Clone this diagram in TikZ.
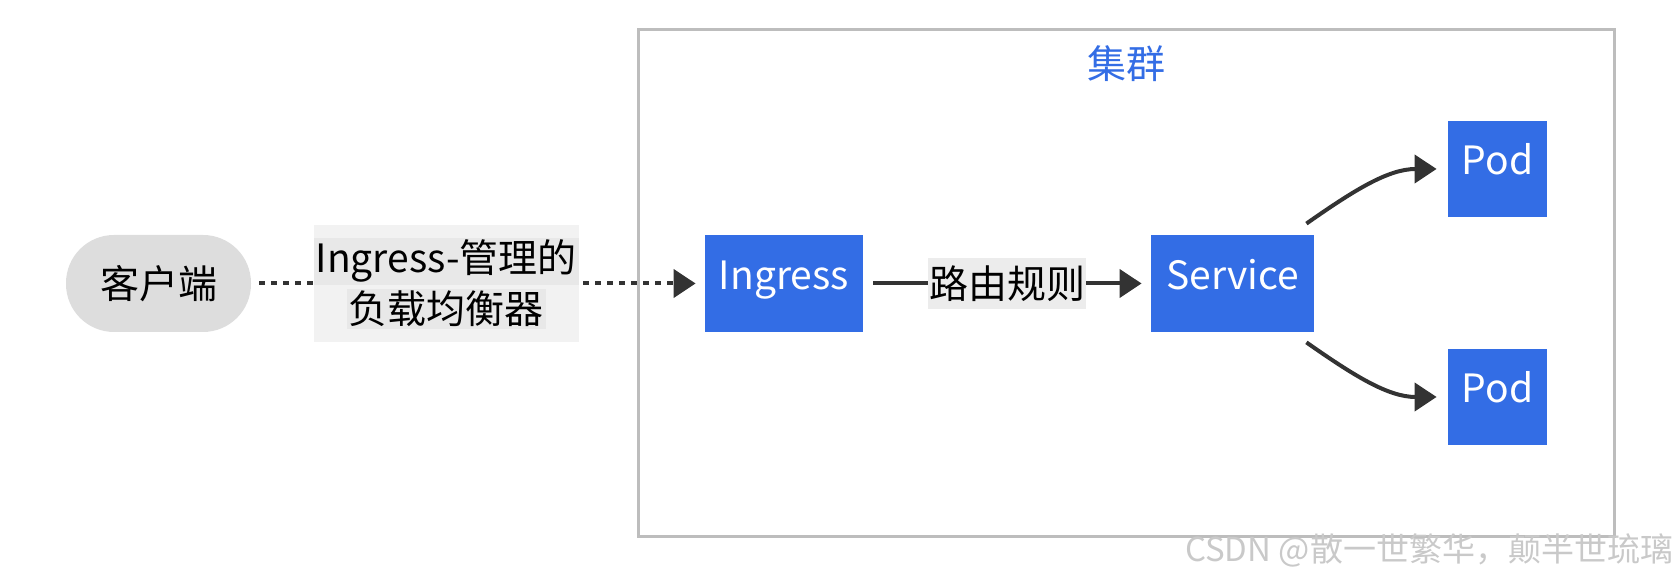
\documentclass[tikz,border=0pt]{standalone}
\usepackage{fontspec}
\setmainfont{Noto Sans CJK SC}
\usepackage{xcolor}
\usetikzlibrary{arrows.meta}
\definecolor{k8sblue}{HTML}{336DE5}
\definecolor{clientgray}{HTML}{DDDDDD}
\definecolor{lblfill}{HTML}{ECECEC}
\definecolor{lbldark}{HTML}{E8E8E8}
\definecolor{framegray}{HTML}{BDBDBD}
\definecolor{linkgray}{HTML}{333333}
\definecolor{markgray}{HTML}{C9C9C9}

\begin{document}
\begin{tikzpicture}[
    x=0.5pt, y=0.5pt,
    font=\fontsize{19.5}{25.5}\selectfont,
    block/.style={fill=k8sblue, text=white, minimum height=48.5pt, inner sep=0pt, text height=0.78em, text depth=0.22em},
    clientbox/.style={fill=clientgray, rounded corners=24pt, minimum width=92.5pt, minimum height=48.5pt, inner sep=0pt},
    clusterbox/.style={draw=framegray, line width=1.5pt, minimum width=488pt, minimum height=253.5pt},
    softlabel/.style={fill=lblfill, fill opacity=0.7, text opacity=1, minimum width=131pt, minimum height=58.5pt, align=center, inner sep=0pt},
    rulelabel/.style={fill=lblfill, minimum height=25.5pt, inner sep=0.5pt},
    link/.style={draw=linkgray, line width=2pt, -{Triangle[length=11pt, width=14pt]}},
    dotlink/.style={link, dash pattern=on 3pt off 3pt}
]
    \useasboundingbox (0,0) rectangle (1674,576);
    \setlength{\fboxsep}{1pt}

    % Cluster frame
    \node[clusterbox] (cluster) at (1126,292.5) {};
    \node[text=k8sblue] (clustertitle) at (1126,512) {集群};

    % Nodes
    \node[clientbox] (client) at (158.5,292.5) {客户端};
    \node[block, minimum width=79pt] (ingress) at (784,292.5) {Ingress};
    \node[block, minimum width=81.5pt] (service) at (1232.5,292.5) {Service};
    \node[block, minimum width=49.5pt, minimum height=48pt] (podtop) at (1497.5,407) {Pod};
    \node[block, minimum width=49.5pt, minimum height=48pt] (podbottom) at (1497.5,179) {Pod};

    % Traffic
    \draw[dotlink, shorten <=4pt, shorten >=4.5pt] (client) -- node[pos=0.43, softlabel]
        {\colorbox{lbldark}{Ingress-管理的}\\\colorbox{lbldark}{负载均衡器}} (ingress);
    \draw[link, shorten <=5pt, shorten >=4.5pt] (ingress) -- node[rulelabel] {路由规则} (service);
    \draw[link, shorten >=5.5pt] ([xshift=-4pt, yshift=5.5pt]service.north east) to[out=35, in=180] (podtop);
    \draw[link, shorten >=5.5pt] ([xshift=-4pt, yshift=-5pt]service.south east) to[out=-35, in=180] (podbottom);

    % Watermark
    \node[text=markgray, font=\fontsize{16.5}{20}\selectfont] (mark) at (1429,26) {CSDN @散一世繁华，颠半世琉璃};
\end{tikzpicture}
\end{document}
